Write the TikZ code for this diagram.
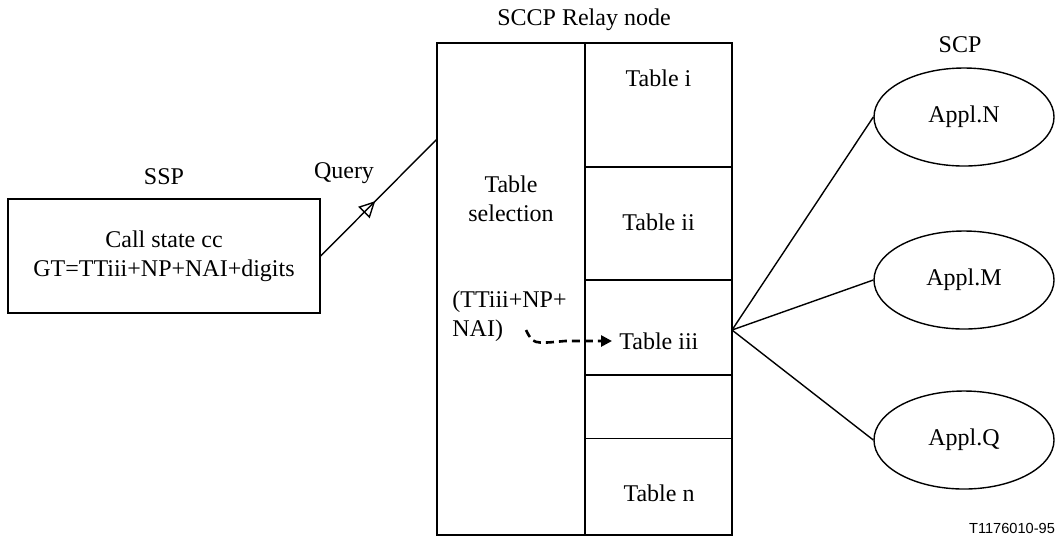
\documentclass[tikz,border=0pt]{standalone}
\usepackage{fontspec}
\setmainfont{Liberation Serif}
\newfontfamily\figfont{Liberation Sans}
\usetikzlibrary{arrows.meta,shapes.geometric,decorations.markings}

\begin{document}
\begin{tikzpicture}[x=0.5pt,y=-0.5pt,>=Stealth,line width=0.7pt,every node/.style={font=\fontsize{12}{14.5}\selectfont},
cell/.style={draw,inner sep=0pt,minimum width=73.5pt},
appl/.style={draw,ellipse,inner sep=0pt,minimum width=90pt,minimum height=49pt}]
\useasboundingbox (0,0) rectangle (1063,538);
\node[draw,minimum width=156pt,minimum height=57pt,align=center] (ssp) at (164,256) {Call state cc\\GT=TTiii+NP+NAI+digits};
\node (ssplbl) at (164,177) {SSP};
\node (qlbl) at (344,173) {Query};
\node[draw,inner sep=0pt,minimum width=74pt,minimum height=246pt] (sel) at (511,289) {};
\node[cell,minimum height=62pt] (t1) at (658.5,105) {};
\node[cell,minimum height=56.5pt] (t2) at (658.5,223.5) {};
\node[cell,minimum height=47.5pt] (t3) at (658.5,327.5) {};
\node[cell,minimum height=31.75pt] (t4) at (658.5,406.75) {};
\node[cell,minimum height=48.25pt] (t5) at (658.5,486.75) {};
\node (relaylbl) at (584,20) {SCCP Relay node};
\node[align=center] (seltxt) at (511,199) {Table\\selection};
\node[anchor=west,align=left] (gtsel) at (445,316) {(TTiii+NP+\\NAI)};
\node (ti) at (658.5,78) {Table i};
\node (tii) at (658.5,222) {Table ii};
\node[anchor=west] (tiii) at (612,341) {Table iii};
\node (tn) at (659,493) {Table n};
\node (scplbl) at (960,45) {SCP};
\node[appl] (apn) at (964,117) {Appl.N};
\node[appl] (apm) at (964,280) {Appl.M};
\node[appl] (apq) at (964,440) {Appl.Q};
\node[font=\figfont\fontsize{7.3}{9}\selectfont] (fig) at (1012,528) {T1176010-95};
\coordinate (qin) at (437,139);
\coordinate (hub) at (732,330);
\coordinate (dsrc) at (526,330);
\draw[postaction={decorate},decoration={markings,mark=at position 0.47 with {\arrow{Triangle[open,length=8pt,width=8pt]}}}] (ssp.east) -- (qin);
\draw (hub) -- (apn.west);\draw (hub) -- (apm.west);\draw (hub) -- (apq.west);
\draw[line width=1.3pt,dash pattern=on 4pt off 2.5pt,-{Triangle[length=5.5pt,width=5.5pt]}] (dsrc) .. controls (533,344) .. (565,341) -- (tiii.west);
\end{tikzpicture}
\end{document}
